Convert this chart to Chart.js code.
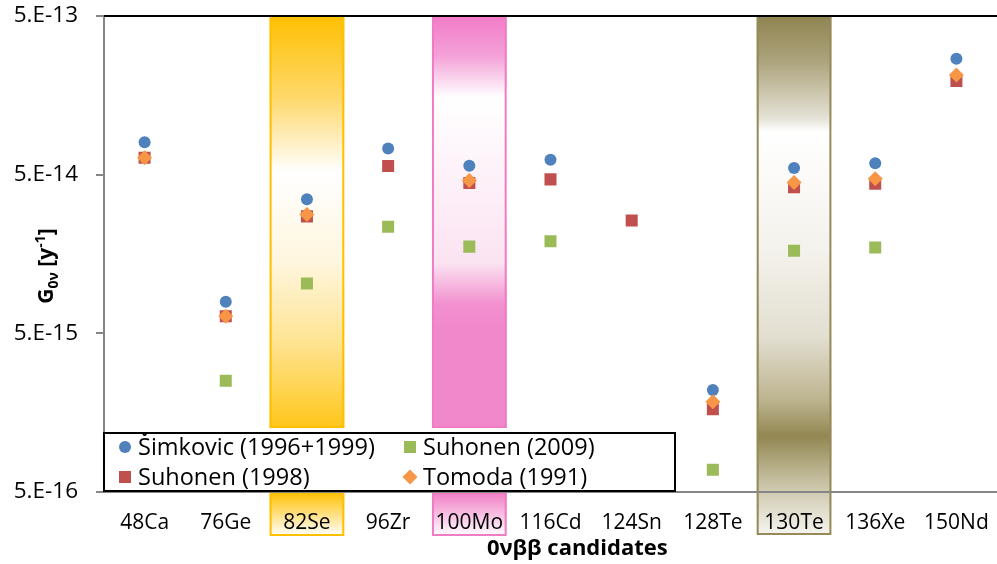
<!DOCTYPE html>
<html>
<head>
<meta charset="utf-8">
<script src="https://cdn.jsdelivr.net/npm/chart.js@4.4.1/dist/chart.umd.min.js"></script>
<style>
  html, body { margin: 0; padding: 0; background: #fff; }
  #wrap { width: 997px; height: 564px; }
</style>
</head>
<body>
<div id="wrap"><canvas id="grafico" width="997" height="564"></canvas></div>
<script>
var candidatos = ['48Ca', '76Ge', '82Se', '96Zr', '100Mo', '116Cd', '124Sn', '128Te', '130Te', '136Xe', '150Nd'];
var simkovic = [8.0e-14, 7.9e-15, 3.5e-14, 7.3e-14, 5.7e-14, 6.2e-14, null, 2.2e-15, 5.5e-14, 5.9e-14, 2.69e-13];
var suhonen1998 = [6.4e-14, 6.4e-15, 2.73e-14, 5.67e-14, 4.43e-14, 4.67e-14, 2.57e-14, 1.66e-15, 4.16e-14, 4.39e-14, 1.95e-13];
var suhonen2009 = [null, 2.51e-15, 1.03e-14, 2.35e-14, 1.76e-14, 1.9e-14, null, 6.9e-16, 1.66e-14, 1.74e-14, null];
var tomoda = [6.4e-14, 6.4e-15, 2.8e-14, null, 4.6e-14, null, null, 1.85e-15, 4.47e-14, 4.72e-14, 2.12e-13];
var ticksY = [5e-16, 5e-15, 5e-14, 5e-13];
var destaques = ['82Se', '100Mo', '130Te'];

var fonte = '"Open Sans", "Noto Sans", sans-serif';

// gradientes das faixas (cores estimadas da imagem)
var estiloFaixa = {
    '82Se': {
        borda: '#FFC000', inteira: false,
        faixa: [[0, '#FFC000'], [0.2, '#FED86A'], [0.38, '#FFFFFF'], [0.6, '#FFF6DE'], [0.8, '#FEE38E'], [1, '#FFC619']],
        caixa: [[0, '#FFC000'], [1, '#FFFFFF']]
    },
    '100Mo': {
        borda: '#F07CC4', inteira: false,
        faixa: [[0, '#F27AC8'], [0.1, '#F4A2D8'], [0.2, '#FFFFFF'], [0.6, '#FBE3F2'], [0.7, '#F290CF'], [0.76, '#F288CC'], [1, '#F288CC']],
        caixa: [[0, '#F07CC4'], [1, '#FFFFFF']]
    },
    '130Te': {
        borda: '#958B5A', inteira: true,
        faixa: [[0, '#8F8350'], [0.09, '#ADA47D'], [0.2, '#E6E3D8'], [0.225, '#FFFFFF'], [0.45, '#F4F2EC'], [0.62, '#E2DED0'], [0.74, '#BDB48F'], [0.81, '#928752'], [0.9, '#C8C2A4'], [1, '#F6F5F0']]
    }
};

function gradiente(ctx, y0, y1, paradas) {
    var g = ctx.createLinearGradient(0, y0, 0, y1);
    paradas.forEach(function (p) { g.addColorStop(p[0], p[1]); });
    return g;
}

function retangulo(ctx, x0, y0, w, h, paradas, borda) {
    ctx.fillStyle = gradiente(ctx, y0, y0 + h, paradas);
    ctx.fillRect(x0, y0, w, h);
    ctx.strokeStyle = borda;
    ctx.lineWidth = 2;
    ctx.strokeRect(x0 + 1, y0 + 1, w - 2, h - 2);
}

const faixas = {
    id: 'faixas',
    beforeDraw(chart) {
        var ctx = chart.ctx, area = chart.chartArea, x = chart.scales.x;
        var larg = (area.right - area.left) / candidatos.length * 0.92;
        ctx.save();
        destaques.forEach(function (nome) {
            var est = estiloFaixa[nome];
            var cx = x.getPixelForValue(candidatos.indexOf(nome));
            var x0 = cx - larg / 2;
            if (est.inteira) {
                retangulo(ctx, x0, area.top - 1, larg, area.bottom + 44 - area.top, est.faixa, est.borda);
            } else {
                retangulo(ctx, x0, area.top - 1, larg, area.bottom - 63 - area.top, est.faixa, est.borda);
                retangulo(ctx, x0, area.bottom, larg, 44, est.caixa, est.borda);
            }
        });
        ctx.restore();
    },
    afterDatasetsDraw(chart) {
        var ctx = chart.ctx, area = chart.chartArea;
        ctx.save();
        ctx.strokeStyle = '#000';
        ctx.lineWidth = 2;
        ctx.beginPath();
        ctx.moveTo(area.left, area.top);
        ctx.lineTo(area.right, area.top);
        ctx.stroke();
        ctx.restore();
    }
};

function marcador(ctx, tipo, cor, x, y) {
    ctx.fillStyle = cor;
    ctx.beginPath();
    if (tipo == 'circle') {
        ctx.arc(x, y, 6, 0, Math.PI * 2);
    } else if (tipo == 'rect') {
        ctx.rect(x - 6, y - 6, 12, 12);
    } else {
        ctx.moveTo(x, y - 7.5);
        ctx.lineTo(x + 7.5, y);
        ctx.lineTo(x, y + 7.5);
        ctx.lineTo(x - 7.5, y);
        ctx.closePath();
    }
    ctx.fill();
}

const legenda = {
    id: 'legenda',
    afterDraw(chart) {
        var ctx = chart.ctx, area = chart.chartArea;
        var l = area.left - 1, t = area.bottom - 60, w = 573, h = 60;
        ctx.save();
        ctx.fillStyle = '#fff';
        ctx.fillRect(l, t, w, h);
        ctx.strokeStyle = '#000';
        ctx.lineWidth = 2;
        ctx.strokeRect(l + 1, t + 1, w - 2, h - 2);

        var itens = [
            ['circle', '#4F81BD', 'Šimkovic (1996+1999)', 0, 0],
            ['rect', '#9BBB59', 'Suhonen (2009)', 1, 0],
            ['rect', '#C0504D', 'Suhonen (1998)', 0, 1],
            ['diamond', '#F79646', 'Tomoda (1991)', 1, 1]
        ];
        ctx.font = '23.5px ' + fonte;
        ctx.textBaseline = 'middle';
        itens.forEach(function (it) {
            var mx = l + 22 + it[3] * 285;
            var my = t + 15 + it[4] * 30;
            marcador(ctx, it[0], it[1], mx, my);
            ctx.fillStyle = '#000';
            ctx.fillText(it[2], mx + 13, my + 1);
        });

        // titulo do eixo x (um pouco deslocado para a direita, como no original)
        ctx.font = 'bold 22px ' + fonte;
        ctx.textAlign = 'center';
        ctx.fillText('0νββ candidates', area.left + (area.right - area.left) * 0.53, area.bottom + 57);
        ctx.textAlign = 'left';

        // titulo do eixo y com subscrito e sobrescrito
        var partes = [
            ['G', 21, 0], ['0ν', 14, 5], [' [y', 21, 0], ['-1', 14, -8], [']', 21, 0]
        ];
        var total = 0;
        partes.forEach(function (p) {
            ctx.font = 'bold ' + p[1] + 'px ' + fonte;
            total += ctx.measureText(p[0]).width;
        });
        ctx.translate(53, (area.top + area.bottom) / 2 + 12);
        ctx.rotate(-Math.PI / 2);
        ctx.textBaseline = 'alphabetic';
        ctx.fillStyle = '#000';
        var px = -total / 2;
        partes.forEach(function (p) {
            ctx.font = 'bold ' + p[1] + 'px ' + fonte;
            ctx.fillText(p[0], px, p[2]);
            px += ctx.measureText(p[0]).width;
        });
        ctx.restore();
    }
};

function zeraPadding(s) {
    s.paddingLeft = 0; s.paddingRight = 0; s.paddingTop = 0; s.paddingBottom = 0;
}

var ctx = document.getElementById('grafico').getContext('2d');
var graficoG0v = new Chart(ctx, {
    type: 'line',
    data: {
        labels: candidatos,
        datasets: [{
            label: 'Šimkovic (1996+1999)', data: simkovic, pointStyle: 'circle', pointRadius: 6,
            backgroundColor: '#4F81BD', borderColor: '#4F81BD', order: 1
        }, {
            label: 'Suhonen (2009)', data: suhonen2009, pointStyle: 'rect', pointRadius: 8.5,
            backgroundColor: '#9BBB59', borderColor: '#9BBB59', order: 2
        }, {
            label: 'Suhonen (1998)', data: suhonen1998, pointStyle: 'rect', pointRadius: 8.5,
            backgroundColor: '#C0504D', borderColor: '#C0504D', order: 3
        }, {
            label: 'Tomoda (1991)', data: tomoda, pointStyle: 'rectRot', pointRadius: 7.5,
            backgroundColor: '#F79646', borderColor: '#F79646', order: 0
        }]
    },
    options: {
        responsive: false,
        animation: false,
        devicePixelRatio: 1,
        events: [],
        showLine: false,
        elements: { point: { borderWidth: 0 } },
        layout: { autoPadding: false, padding: { top: 16, right: 0, left: 0, bottom: 0 } },
        plugins: { legend: { display: false }, tooltip: { enabled: false } },
        scales: {
            x: {
                type: 'category', offset: true,
                grid: { display: false, drawTicks: false },
                border: { display: true, color: '#868686', width: 2 },
                ticks: { color: '#000', padding: 18, maxRotation: 0, autoSkip: false, font: { family: fonte, size: 21 } },
                afterFit: function (s) { s.height = 72; zeraPadding(s); }
            },
            y: {
                type: 'logarithmic', min: 5e-16, max: 5e-13,
                afterBuildTicks: function (s) { s.ticks = ticksY.map(function (v) { return { value: v }; }); },
                grid: { display: true, drawOnChartArea: false, drawTicks: true, tickLength: 8, color: '#868686', lineWidth: 2 },
                border: { display: true, color: '#868686', width: 2 },
                ticks: {
                    color: '#000', padding: 18, font: { family: fonte, size: 22.5 },
                    callback: function (v) { return '5.E' + Math.round(Math.log10(v / 5)); }
                },
                afterFit: function (s) { s.width = 104; zeraPadding(s); }
            }
        }
    },
    plugins: [faixas, legenda]
});
</script>
</body>
</html>
